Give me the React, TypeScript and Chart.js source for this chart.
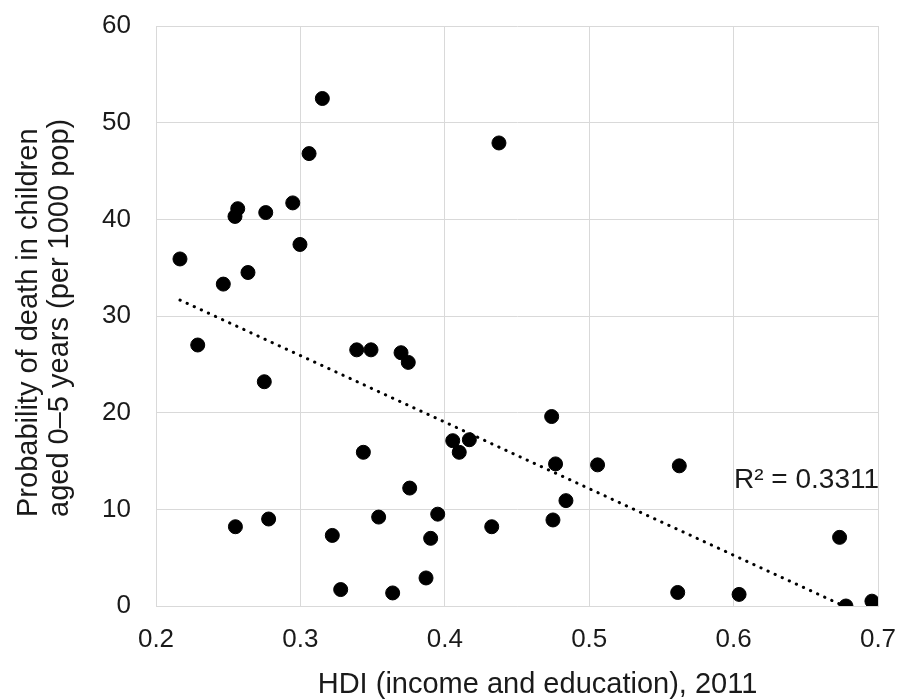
import React, { useEffect, useRef } from 'react';
import { Chart, registerables } from 'chart.js';

Chart.register(...registerables);

// HDI (income and education), 2011
const hdi = [
  0.2166, 0.2289, 0.2466, 0.2547, 0.2566, 0.2637, 0.275, 0.276, 0.2947, 0.2997,
  0.306, 0.3152, 0.4375, 0.339, 0.3489, 0.3697, 0.3747, 0.474, 0.4055, 0.417,
  0.41, 0.4767, 0.5058, 0.5624, 0.3436, 0.3757, 0.255, 0.278, 0.3221, 0.3542,
  0.3951, 0.3902, 0.387, 0.3279, 0.3639, 0.4325, 0.4839, 0.4749, 0.6734, 0.5613,
  0.6038, 0.6778, 0.6958,
];
// Probability of death in children aged 0-5 (per 1000 pop)
const childDeaths = [
  35.9, 27.0, 33.3, 40.3, 41.1, 34.5, 23.2, 40.7, 41.7, 37.4,
  46.8, 52.5, 47.9, 26.5, 26.5, 26.2, 25.2, 19.6, 17.1, 17.2,
  15.9, 14.7, 14.6, 14.5, 15.9, 12.2, 8.2, 9.0, 7.3, 9.2,
  9.5, 7.0, 2.9, 1.7, 1.35, 8.2, 10.9, 8.9, 7.1, 1.4,
  1.2, 0, 0.5,
];
// Linear trendline end points
const trendX = [0.2166, 0.6958];
const trendY = [31.65, -1.34];

const xTitle = 'HDI (income and education), 2011';
const yTitleLines = ['Probability of death in children', 'aged 0\u20135 years (per 1000 pop)'];
const r2Label = 'R\u00b2 = 0.3311';

const TEXT = '#1a1a1a';
const GRID = '#d9d9d9';
const FONT = '"Liberation Sans", Arial, sans-serif';

const textPlugin = {
  id: 'textPlugin',
  afterDraw(chart: any) {
    const { ctx } = chart;
    ctx.save();
    ctx.fillStyle = TEXT;
    ctx.font = `29px ${FONT}`;
    ctx.textBaseline = 'alphabetic';
    ctx.textAlign = 'center';
    ctx.fillText(xTitle, 537.5, 693);
    const baseX = [37.3, 68.3];
    yTitleLines.forEach((line, i) => {
      ctx.save();
      ctx.translate(baseX[i], 517);
      ctx.rotate(-Math.PI / 2);
      ctx.textAlign = 'left';
      ctx.fillText(line, 0, 0);
      ctx.restore();
    });
    ctx.font = `28px ${FONT}`;
    ctx.textAlign = 'left';
    ctx.fillText(r2Label, 734, 488.3);
    ctx.restore();
  },
};

export default function App() {
  const ref = useRef<HTMLCanvasElement>(null);
  useEffect(() => {
    const canvas = ref.current;
    if (!canvas) return;
    const chart = new Chart(canvas, {
      type: 'scatter',
      data: {
        datasets: [
          {
            label: 'Trend',
            data: trendX.map((x, i) => ({ x, y: trendY[i] })),
            showLine: true,
            pointRadius: 0,
            borderColor: '#000',
            borderWidth: 3,
            borderDash: [0.3, 7.5],
            borderCapStyle: 'round',
            fill: false,
          } as any,
          {
            label: 'Countries',
            data: hdi.map((x, i) => ({ x, y: childDeaths[i] })),
            pointRadius: 7,
            pointBorderWidth: 1,
            backgroundColor: '#000',
            borderColor: '#000',
          },
        ],
      },
      options: {
        animation: false,
        responsive: true,
        maintainAspectRatio: false,
        layout: { padding: { left: 0, top: 26, right: 21, bottom: 0 } },
        plugins: { legend: { display: false }, tooltip: { enabled: false } },
        scales: {
          x: {
            type: 'linear',
            min: 0.2,
            max: 0.7,
            ticks: {
              stepSize: 0.1,
              padding: 18,
              color: TEXT,
              font: { family: FONT, size: 26, lineHeight: 1.2 },
              callback: (v: any) => Number(v).toFixed(1),
            },
            grid: { color: GRID, lineWidth: 1, drawTicks: false },
            border: { display: true, color: GRID, width: 1 },
            afterFit: (scale: any) => {
              scale.height = 93;
              scale.paddingLeft = 0;
              scale.paddingRight = 0;
              scale.paddingTop = 0;
              scale.paddingBottom = 0;
            },
          },
          y: {
            type: 'linear',
            min: 0,
            max: 60,
            ticks: {
              stepSize: 10,
              padding: 25,
              color: TEXT,
              font: { family: FONT, size: 26, lineHeight: 1.2 },
            },
            grid: { color: GRID, lineWidth: 1, drawTicks: false },
            border: { display: true, color: GRID, width: 1 },
            afterFit: (scale: any) => {
              scale.width = 156;
              scale.paddingLeft = 0;
              scale.paddingRight = 0;
              scale.paddingTop = 0;
              scale.paddingBottom = 0;
            },
          },
        },
      },
      plugins: [textPlugin],
    });
    return () => chart.destroy();
  }, []);
  return (
    <div style={{ position: 'fixed', left: 0, top: 0, width: 899, height: 699, background: '#fff' }}>
      <canvas ref={ref} />
    </div>
  );
}
